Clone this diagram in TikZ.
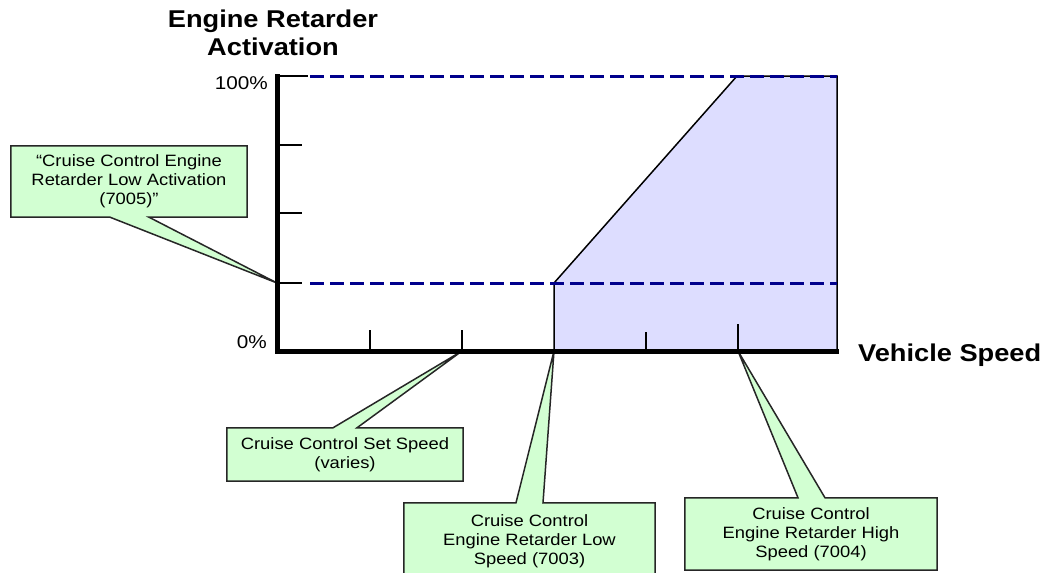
\documentclass[tikz,border=0pt]{standalone}
\usepackage{fontspec}
\setmainfont{Liberation Sans}[FakeStretch=1.12]
\usetikzlibrary{backgrounds}
\definecolor{boxgreen}{RGB}{210,255,210}
\definecolor{shadeblue}{RGB}{221,221,255}
\definecolor{dashnavy}{RGB}{0,0,140}
\begin{document}
\begin{tikzpicture}[x=1pt,y=-1pt,
  boxtext/.style={inner sep=0pt, align=center, font=\fontsize{16.4}{19.2}\selectfont},
  calloutshape/.style={fill=boxgreen, draw=black!85, line width=1.5pt, line join=miter},
  axisline/.style={line width=5pt, line join=miter, line cap=rect},
  ticksmall/.style={line width=1.6pt},
  tickx/.style={line width=2pt},
  guide/.style={draw=dashnavy, line width=3pt, dash pattern=on 14pt off 6pt},
  axlabel/.style={font=\fontsize{18.5}{22}\selectfont, inner sep=0pt},
  titlelabel/.style={font=\fontsize{24.3}{28}\selectfont\bfseries, align=center, inner sep=0pt}]
\useasboundingbox (0,0) rectangle (1050,573);

% shaded region
\filldraw[fill=shadeblue, draw=black, line width=1.5pt]
  (554,351) -- (554,283) -- (737,76) -- (837,76) -- (837,351) -- cycle;

% dashed guide lines
\draw[guide] (310,76) -- (837,76);
\draw[guide] (310,283) -- (837,283);

% y ticks
\draw[ticksmall] (277,76) -- (308,76);
\draw[ticksmall] (277,145) -- (302,145);
\draw[ticksmall] (277,213) -- (302,213);
\draw[ticksmall] (277,283) -- (302,283);
% x ticks
\draw[tickx] (370,351) -- (370,330);
\draw[tickx] (462,351) -- (462,330);
\draw[tickx] (646,351) -- (646,332);
\draw[tickx] (738,351) -- (738,324);

% axes
\draw[axisline] (277,76) -- (277,351) -- (836,351);

% labels
\node[axlabel, anchor=east] (l100) at (268,83) {100\%};
\node[axlabel, anchor=east] (l0) at (267,342) {0\%};
\node[titlelabel] (ytitle) at (273,33) {Engine Retarder\\Activation};
\node[titlelabel, anchor=west] (xtitle) at (858,355) {Vehicle Speed};

% callout tips
\coordinate (t1) at (277,283);
\coordinate (t2) at (462,351);
\coordinate (t3) at (554,351);
\coordinate (t4) at (738,351);

% callout texts
\node[boxtext, minimum width=236pt, minimum height=71pt] (c1) at (129,181.5)
  {“Cruise Control Engine\\Retarder Low Activation\\(7005)”};
\node[boxtext, minimum width=236pt, minimum height=53pt] (c2) at (345,454.5)
  {Cruise Control Set Speed\\(varies)};
\node[boxtext, minimum width=251pt, minimum height=76pt] (c3) at (529.5,541)
  {Cruise Control\\Engine Retarder Low\\Speed (7003)};
\node[boxtext, minimum width=252pt, minimum height=72pt] (c4) at (811,534)
  {Cruise Control\\Engine Retarder High\\Speed (7004)};

\begin{scope}[on background layer]
\path[calloutshape] (c1.north west) -- (c1.north east) -- (c1.south east)
  -- (c1.south -| 149,0) -- (t1) -- (c1.south -| 110,0) -- (c1.south west) -- cycle;
\path[calloutshape] (c2.south west) -- (c2.south east) -- (c2.north east)
  -- (c2.north -| 357,0) -- (t2) -- (c2.north -| 333,0) -- (c2.north west) -- cycle;
\path[calloutshape] (c3.south west) -- (c3.south east) -- (c3.north east)
  -- (c3.north -| 543,0) -- (t3) -- (c3.north -| 516,0) -- (c3.north west) -- cycle;
\path[calloutshape] (c4.south west) -- (c4.south east) -- (c4.north east)
  -- (c4.north -| 825,0) -- (t4) -- (c4.north -| 798,0) -- (c4.north west) -- cycle;
\end{scope}
\end{tikzpicture}
\end{document}
